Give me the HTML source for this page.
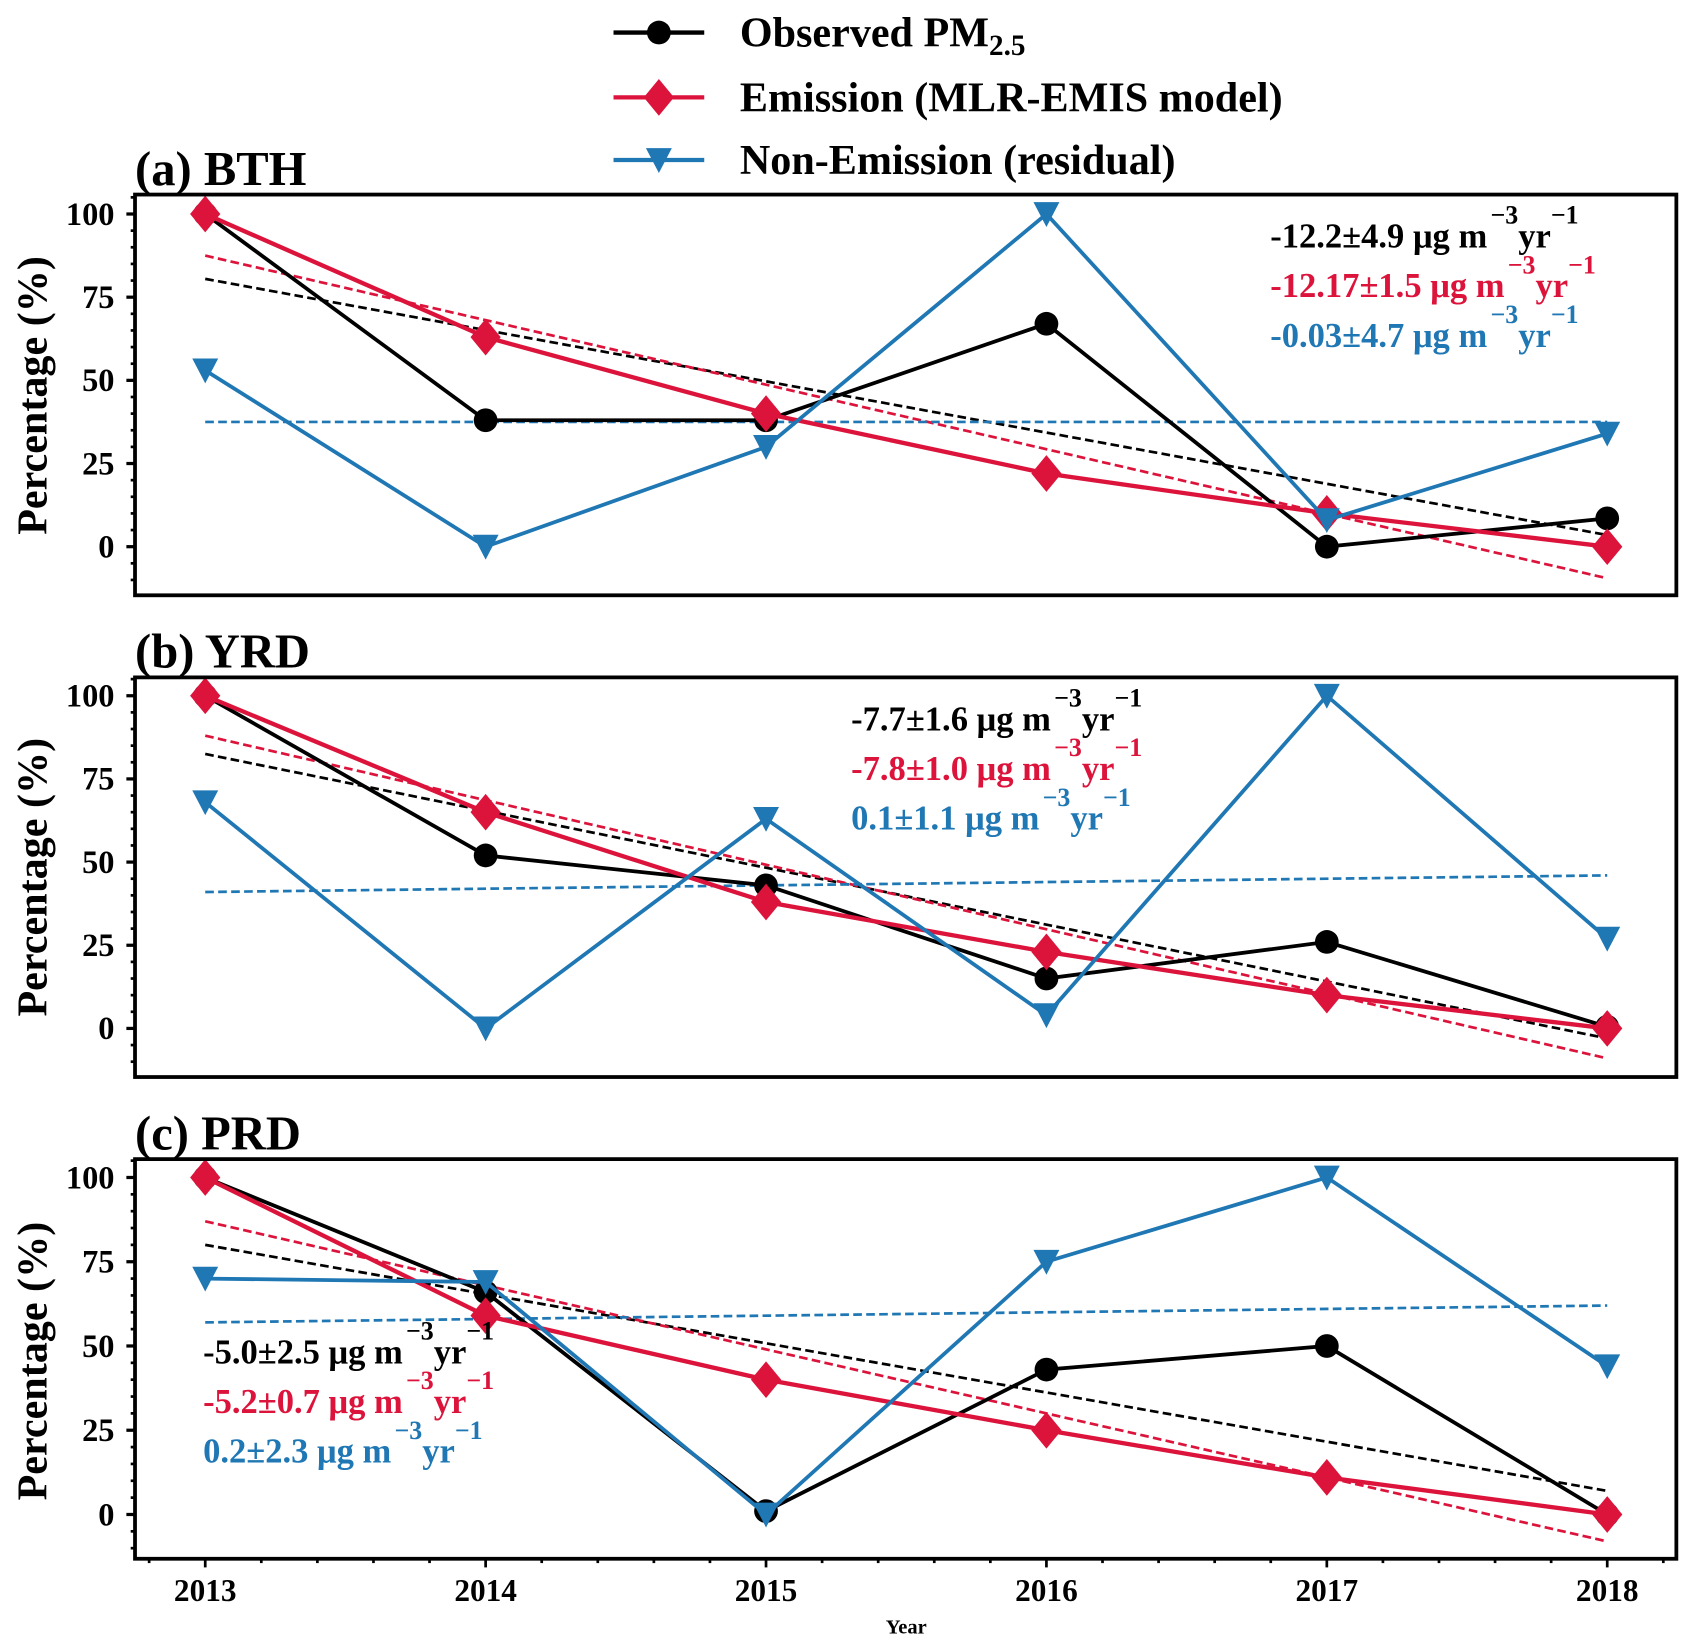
<!DOCTYPE html>
<html><head><meta charset="utf-8"><style>
html,body{margin:0;padding:0;background:#fff;}
svg{display:block;font-family:"Liberation Serif",serif;font-weight:bold;}
</style></head><body>
<svg id="chart" width="1685" height="1641" viewBox="0 0 1560 1519" xmlns="http://www.w3.org/2000/svg"></svg>
<script>
const years = [2013, 2014, 2015, 2016, 2017, 2018];
const panelTitles = ["(a) BTH", "(b) YRD", "(c) PRD"];
const obsA = [100, 38, 38, 67, 0, 8.5];
const emiA = [100, 63, 40, 22, 10, 0];
const nonA = [53, 0, 30, 100, 8, 34];
const obsB = [100, 52, 43, 15, 26, 0.5];
const emiB = [100, 65, 38, 23, 10, 0];
const nonB = [68, 0, 63, 4, 100, 27];
const obsC = [100, 66, 1, 43, 50, 0];
const emiC = [100, 59, 40, 25, 11, 0];
const nonC = [70, 69, 0, 75, 100, 44];
const trendObs = [[80.5, 3.5], [82.5, -3], [80, 7]];
const trendEmi = [[87.5, -9.5], [88, -9], [87, -8]];
const trendNon = [[37.5, 37.5], [41, 46], [57, 62]];
const slopeObs = ["-12.2±4.9", "-7.7±1.6", "-5.0±2.5"];
const slopeEmi = ["-12.17±1.5", "-7.8±1.0", "-5.2±0.7"];
const slopeNon = ["-0.03±4.7", "0.1±1.1", "0.2±2.3"];
const yTicks = [0, 25, 50, 75, 100];

const BLACK = "#000", RED = "#dc143c", BLUE = "#1f77b4";
const svg = document.getElementById("chart");
const NS = "http://www.w3.org/2000/svg";
function mk(tag, attrs, parent) {
  const e = document.createElementNS(NS, tag);
  for (const k in attrs) e.setAttribute(k, attrs[k]);
  (parent || svg).appendChild(e);
  return e;
}
const X0 = 125, X1 = 1552;
function xs(yr) { return 190 + (yr - 2013) * (1488 - 190) / 5; }
const panels = [
  {top: 180, bot: 551, y100: 198, y0: 506, obs: obsA, emi: emiA, non: nonA, tx: 1176, ty: 229},
  {top: 627, bot: 997, y100: 644, y0: 952, obs: obsB, emi: emiB, non: nonB, tx: 788, ty: 676},
  {top: 1073, bot: 1443, y100: 1090, y0: 1402, obs: obsC, emi: emiC, non: nonC, tx: 188, ty: 1262}
];

const legItems = [["Observed PM", BLACK, "circle"], ["Emission (MLR-EMIS model)", RED, "diamond"], ["Non-Emission (residual)", BLUE, "tri"]];
const legY = [30, 90, 148];
function marker(g, type, x, y, color) {
  let m;
  if (type === "circle") m = mk("circle", {cx: x, cy: y, r: 11, fill: color}, g);
  else if (type === "diamond") m = mk("polygon", {points: `${x},${y-17} ${x+14},${y} ${x},${y+17} ${x-14},${y}`, fill: color}, g);
  else m = mk("polygon", {points: `${x-12},${y-11} ${x+12},${y-11} ${x},${y+12}`, fill: color}, g);
  
  
  return m;
}
legItems.forEach((it, i) => {
  const g = mk("g", {});
  
  
  mk("line", {x1: 568, x2: 652, y1: legY[i], y2: legY[i], stroke: it[1], "stroke-width": 4}, g);
  marker(g, it[2], 610, legY[i], it[1]);
  const t = mk("text", {x: 685, y: legY[i] + 13, "font-size": 39}, g);
  t.textContent = it[0];
  if (i === 0) { const s = mk("tspan", {dy: 8, "font-size": 27}, t); s.textContent = "2.5"; }
});

panels.forEach((p, pi) => {
  const ys = v => p.y0 + (p.y100 - p.y0) * v / 100;
  const g = mk("g", {});
  
  
  const title = mk("text", {x: 125, y: p.top - 9, "font-size": 45}, g);
  
  
  title.textContent = panelTitles[pi];
  const yl = mk("text", {x: 0, y: 0, "font-size": 39, "text-anchor": "middle", transform: `translate(43 ${(p.y0 + p.y100) / 2 + 14}) rotate(-90)`}, g);
  
  
  yl.textContent = "Percentage (%)";
  for (let v = -10; v <= 105; v += 5) {
    const y = ys(v);
    if (y < p.top || y > p.bot) continue;
    const major = v % 25 === 0 && v >= 0;
    mk("line", {x1: X0 - (major ? 8 : 4), x2: X0, y1: y, y2: y, stroke: BLACK, "stroke-width": major ? 3 : 2.5}, g);
  }
  yTicks.forEach(v => {
    const t = mk("text", {x: 106, y: ys(v) + 10, "font-size": 30, "text-anchor": "end"}, g);
    
    
    t.textContent = v;
  });
  [[trendObs, BLACK], [trendEmi, RED], [trendNon, BLUE]].forEach(([tr, c]) => {
    const l = mk("line", {x1: xs(years[0]), x2: xs(years[5]), y1: ys(tr[pi][0]), y2: ys(tr[pi][1]), stroke: c, "stroke-width": 2.5, "stroke-dasharray": "8,4"}, g);
    
    
  });
  [[p.obs, BLACK, "circle", 3.5], [p.emi, RED, "diamond", 4], [p.non, BLUE, "tri", 3.5]].forEach(([arr, c, type, w]) => {
    const pl = mk("polyline", {points: arr.map((v, i) => xs(years[i]) + "," + ys(v)).join(" "), fill: "none", stroke: c, "stroke-width": w}, g);
    
    
    arr.forEach((v, i) => marker(g, type, xs(years[i]), ys(v), c));
  });
  mk("rect", {x: X0, y: p.top, width: X1 - X0, height: p.bot - p.top, fill: "none", stroke: BLACK, "stroke-width": 3.5}, g);
  [[slopeObs, BLACK], [slopeEmi, RED], [slopeNon, BLUE]].forEach(([arr, c], k) => {
    const t = mk("text", {x: p.tx, y: p.ty + k * 46, "font-size": 32, fill: c}, g);
    
    
    const a = mk("tspan", {}, t); a.textContent = arr[pi] + " μg m";
    const b = mk("tspan", {dy: -22, dx: 3, "font-size": 24}, t); b.textContent = "−3";
    const c2 = mk("tspan", {dy: 22}, t); c2.textContent = "yr";
    const d = mk("tspan", {dy: -22, "font-size": 24}, t); d.textContent = "−1";
  });
  if (pi === 2) {
    for (let yr = 2012.8; yr <= 2018.21; yr += 0.2) {
      const x = xs(yr);
      if (x < X0 || x > X1) continue;
      const major = Math.abs(yr - Math.round(yr)) < 0.01;
      mk("line", {x1: x, x2: x, y1: p.bot, y2: p.bot + (major ? 8 : 4), stroke: BLACK, "stroke-width": 2.5}, g);
    }
    years.forEach(yr => {
      const t = mk("text", {x: xs(yr), y: p.bot + 39, "font-size": 29, "text-anchor": "middle"}, g);
      
      
      t.textContent = yr;
    });
    const xl = mk("text", {x: 839, y: 1512, "font-size": 19, "text-anchor": "middle"}, g);
    
    
    xl.textContent = "Year";
  }
});
</script>
</body></html>
